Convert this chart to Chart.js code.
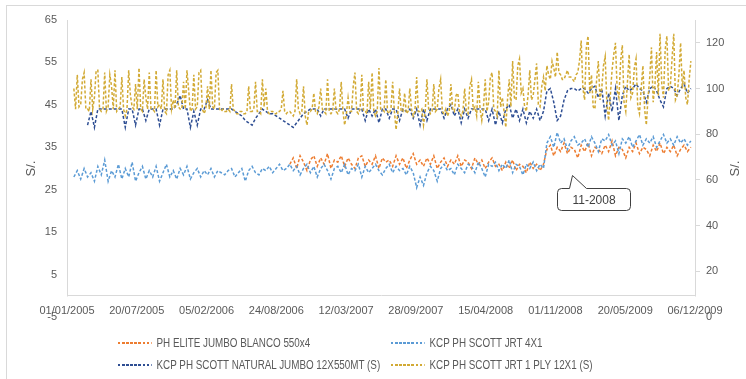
<!DOCTYPE html>
<html>
<head>
<meta charset="utf-8">
<script src="https://cdn.jsdelivr.net/npm/chart.js@4.4.0/dist/chart.umd.min.js"></script>
<style>
body { margin: 0; overflow: hidden; background: #fff; }
.wrap { position: relative; width: 746px; height: 379px; overflow: hidden; }
.frame { position: absolute; left: 6px; top: 5px; width: 780px; height: 420px; border: 1px solid #d9d9d9; }
canvas { position: absolute; left: 0; top: 0; }
.item { position: absolute; white-space: nowrap; font-family: 'Liberation Sans', sans-serif; font-size: 12px; line-height: 14px; color: #595959; transform: scaleX(0.82); transform-origin: 0 50%; }
.swatch { display: inline-block; width: 41px; height: 2px; vertical-align: middle; margin-right: 6px; margin-top: -2px; }
</style>
</head>
<body>
<div class="wrap">
  <div class="frame"></div>
  <canvas id="prices" width="746" height="379"></canvas>
  <div id="legend"></div>
</div>
<script>
// x axis is days counted from 01/01/2005, one label every 200 days
var xTickLabels = ['01/01/2005', '20/07/2005', '05/02/2006', '24/08/2006', '12/03/2007', '28/09/2007', '15/04/2008', '01/11/2008', '20/05/2009', '06/12/2009']
var xTickStep = 200
var xMaxDay = 1832

var seriesNames = ['PH ELITE JUMBO BLANCO 550x4', 'KCP PH SCOTT JRT 4X1', 'KCP PH SCOTT NATURAL JUMBO 12X550MT (S)', 'KCP PH SCOTT JRT 1 PLY 12X1 (S)']
var seriesColors = ['#ED7D31', '#5B9BD5', '#2E4E93', '#D2AA35']

// PH ELITE JUMBO BLANCO 550x4 (left axis), one value every 10 days
var eliteStart = 650
var eliteStep = 10
var eliteValues = [31, 32.5, 30, 33, 31.5, 29.5, 32, 33, 30.5, 32.5, 31, 33.5, 30, 32, 31.5, 33, 30.5, 32.5, 31, 30,
    32.5, 33, 30.5, 32, 31, 33, 30, 32.5, 31.5, 32, 30.5, 33, 31, 32.5, 30, 32, 33.5, 31, 32, 30.5,
    32.5, 31, 33, 30, 31.5, 32.5, 30.5, 32, 31, 33, 30.5, 32, 31.5, 30, 32.5, 31, 32, 30, 31.5, 32.5,
    30.5, 31, 29.5, 31.5, 30, 32, 29.5, 31, 30.5, 29, 31.5, 30, 31, 29.5, 31,
    34.5, 35.5, 33, 35, 34, 36, 33.5, 35, 34.5, 32.5, 35.5, 34, 36, 33, 35, 34.5, 33.5, 35.5, 34, 36.5,
    33, 35, 34.5, 32.5, 35, 34, 36, 33.5, 35, 34.5, 33, 35.5, 34, 36, 33.5, 35, 34, 35.5, 33, 34.5,
    35.5, 34, 35]

// KCP PH SCOTT JRT 4X1 (left axis), one value every 10 days
var jrtStart = 20
var jrtStep = 10
var jrtValues = [28, 29.5, 27.5, 30, 28, 29, 27, 30.5, 28.5, 32, 27, 29.5, 28, 31, 27.5, 30, 28, 31.5, 27, 29,
    30.5, 27.5, 29.5, 28, 30.5, 27, 29, 31, 28, 29.5, 27.5, 30, 28.5, 30.5, 27.5, 29, 30, 28, 29.5, 28.5,
    30, 28, 29.5, 29, 28.5, 29.5, 30, 28, 29, 30, 27, 29.5, 30.5, 29, 28.5, 30, 29.5, 30.5, 29, 30,
    31, 29.5, 30, 31, 29.5, 30.5, 28.5, 30, 31, 29, 30.5, 28, 30, 31, 29.5, 27.5, 30, 30.5, 29, 31,
    28.5, 30, 29.5, 31, 28, 30.5, 29, 30, 31, 29.5, 28.5, 30, 31, 29, 30.5, 29.5, 30, 28.5, 30.5, 29,
    25.5, 28, 26, 29, 30.5, 29.5, 27, 30, 31, 29.5, 30, 28.5, 31, 30, 29, 31, 30.5, 29, 31.5, 30,
    28, 31, 30.5, 31.5, 29.5, 31, 30, 32, 29, 31, 30.5, 28.5, 31, 30, 31.5, 29.5, 31, 30,
    36, 37.5, 35, 38.5, 36, 37, 34.5, 36.5, 37.5, 35.5, 36, 37, 35, 37.5, 36, 34, 37, 36.5, 38, 35.5,
    36.5, 33.5, 37, 36, 37.5, 35, 36.5, 38, 35.5, 37, 36, 37.5, 35, 36.5, 38, 36, 37, 35.5, 37.5, 36,
    37, 35.5, 36.5]

// KCP PH SCOTT NATURAL JUMBO 12X550MT (right axis), one value every 10 days
var naturalStart = 60
var naturalStep = 10
var naturalValues = [84, 90, 83, 91,
    91, 91, 91, 91, 91, 91, 91, 83, 91, 91, 84, 91, 91, 86, 91, 91, 91, 84, 91, 91,
    91, 91, 93, 97, 91, 91, 83, 90, 84, 91, 91, 95, 91, 91, 91, 91, 91,
    91, 91, 90, 89, 88, 86, 85, 84, 87, 89, 91, 90, 89, 89, 88, 87, 86, 85, 84, 83,
    85, 87, 89, 90, 91,
    91, 91, 88, 91, 91, 91, 91, 91, 91, 91, 87, 91, 91, 91, 91, 86, 91, 88, 91, 85,
    91, 91, 87, 91, 91, 86, 91, 90, 91, 87, 91, 84, 91, 86, 91, 91, 91, 91, 87, 91,
    93, 88, 91, 85, 91, 87, 91, 91, 91, 91, 91, 86, 91, 84, 90, 85, 91, 93, 87, 91,
    86, 91, 85, 90, 87, 91, 86, 90,
    99, 100, 94, 86, 88, 95, 99, 100, 100, 99, 100, 100, 98, 100, 101, 96, 100, 88, 98, 90,
    100, 86, 97, 101, 99, 100, 102, 100, 99, 94, 100, 101, 99, 95, 92, 100, 101, 100, 97, 100,
    102, 98, 100]

// KCP PH SCOTT JRT 1 PLY 12X1 (right axis), one value every 5 days
var plyStart = 20
var plyStep = 5
var plyValues = [100, 91, 106, 92, 93, 104, 107, 91, 91, 90, 104, 91, 96, 108, 108, 91, 90, 91, 107, 90,
    92, 106, 101, 91, 108, 90, 91, 92, 105, 91, 88, 91, 108, 97, 92, 91, 102, 91, 109, 91,
    90, 104, 96, 91, 107, 91, 91, 90, 108, 92, 93, 91, 104, 90, 89, 106, 108, 91, 95, 91,
    108, 92, 91, 91, 103, 91, 108, 99, 90, 91, 106, 91, 92, 107, 108, 91, 89, 91, 101, 91,
    108, 92, 91, 107, 108, 91, 90, 91,
    90, 90, 91, 90, 102, 91, 90, 89, 89, 90, 90, 89, 89, 90, 101, 90, 90, 91, 103, 90,
    90, 89, 104, 92, 100, 90, 89, 90, 90, 89, 89, 90, 90, 91, 99, 90, 89, 90, 90, 89,
    88, 90, 104, 91, 89, 90, 101, 88, 84, 90, 90, 91, 98, 90, 89, 92, 100, 91, 90, 89,
    104, 90, 89, 90,
    100, 90, 89, 91, 103, 90, 84, 89, 96, 90, 90, 101, 107, 90, 89, 91, 106, 90, 90, 89,
    103, 91, 107, 90, 88, 90, 109, 91, 91, 90, 104, 90, 89, 91, 103, 90, 82, 89, 100, 90,
    90, 98, 89, 90, 100, 91, 88, 90, 105, 90, 90, 91, 84, 90, 104, 91, 89, 90, 102, 90,
    91, 100, 104, 90, 89, 91, 88, 90, 102, 91, 90, 97, 98, 90, 88, 90,
    100, 90, 89, 101, 104, 91, 92, 88, 103, 91, 86, 92, 104, 90, 94, 105, 107, 91, 90, 88,
    108, 92, 96, 90, 83, 95, 104, 92, 112, 96, 95, 110, 113, 98, 100, 92, 90, 97, 108, 95,
    97, 104, 111, 93, 92, 101, 105, 99,
    110, 106, 104, 112, 109, 105, 116, 107, 106, 104, 104, 106, 108, 105, 105, 104, 103, 106, 107, 112,
    121, 100, 95, 118, 123, 98, 106, 92, 91, 104, 112, 95, 100, 110, 114, 93, 86, 97, 108, 115,
    120, 99, 96, 112, 119, 94, 90, 103, 115, 96, 98, 109, 113, 92, 89, 100, 110, 91, 84, 96,
    105, 118, 94, 101, 116, 97, 124, 102, 96, 117, 123, 99, 101, 113, 124, 95, 97, 106, 120, 100,
    108, 96, 93, 104, 112]

var axisTitle = 'S/.'
var calloutText = '11-2008'
var calloutDay = 1473
var calloutValue = 28.5

function toPoints(start, step, values){
    var points = []
    for (var i = 0; i < values.length; i++) {
        points.push({x: start + i * step, y: values[i]})
    }
    return points
}

function lineSet(idx, points, axis, order){
    return {
        label: seriesNames[idx],
        data: points,
        yAxisID: axis,
        borderColor: seriesColors[idx],
        borderWidth: 1.5,
        borderDash: [3, 2],
        pointRadius: 0,
        tension: 0,
        fill: false,
        order: order
    }
}

var tickFont = {family: 'Liberation Sans', size: 11}
var textColor = '#595959'
var lineColor = '#d9d9d9'

// y axis lines stop at the category axis, right axis title, and the 11-2008 callout
var extras = {
    id: 'extras',
    afterDraw: function(chart){
        var ctx = chart.ctx
        var area = chart.chartArea
        var base = Math.round(chart.scales.y.getPixelForValue(0)) + 0.5
        var lx = Math.round(area.left) + 0.5
        var rx = Math.round(area.right) + 0.5
        ctx.save()
        ctx.strokeStyle = lineColor
        ctx.lineWidth = 1
        ctx.beginPath()
        ctx.moveTo(lx, area.top)
        ctx.lineTo(lx, base)
        ctx.moveTo(rx, area.top)
        ctx.lineTo(rx, base)
        ctx.stroke()

        // secondary title reads bottom to top like the primary one
        ctx.save()
        ctx.translate(chart.scales.y2.right - 11, (area.top + area.bottom) / 2)
        ctx.rotate(-Math.PI / 2)
        ctx.fillStyle = textColor
        ctx.font = '13px "Liberation Sans"'
        ctx.textAlign = 'center'
        ctx.textBaseline = 'middle'
        ctx.fillText(axisTitle, 0, 0)
        ctx.restore()

        var tx = Math.round(chart.scales.x.getPixelForValue(calloutDay)) + 0.5
        var ty = Math.round(chart.scales.y.getPixelForValue(calloutValue)) + 0.5
        var l = tx - 15, r = tx + 58, t = ty + 13, b = ty + 35, rad = 4
        ctx.beginPath()
        ctx.moveTo(l + rad, t)
        ctx.lineTo(tx - 3, t)
        ctx.lineTo(tx, ty)
        ctx.lineTo(tx + 14, t)
        ctx.lineTo(r - rad, t)
        ctx.arcTo(r, t, r, t + rad, rad)
        ctx.lineTo(r, b - rad)
        ctx.arcTo(r, b, r - rad, b, rad)
        ctx.lineTo(l + rad, b)
        ctx.arcTo(l, b, l, b - rad, rad)
        ctx.lineTo(l, t + rad)
        ctx.arcTo(l, t, l + rad, t, rad)
        ctx.closePath()
        ctx.fillStyle = '#fff'
        ctx.fill()
        ctx.strokeStyle = '#404040'
        ctx.stroke()
        ctx.fillStyle = '#404040'
        ctx.font = '12px "Liberation Sans"'
        ctx.textAlign = 'center'
        ctx.textBaseline = 'middle'
        ctx.fillText(calloutText, (l + r) / 2, (t + b) / 2 + 1)
        ctx.restore()
    }
}

var ctx = document.getElementById('prices')
var chart = new Chart(ctx, {
    type: 'line',
    data: {
        datasets: [
            lineSet(0, toPoints(eliteStart, eliteStep, eliteValues), 'y', 4),
            lineSet(1, toPoints(jrtStart, jrtStep, jrtValues), 'y', 3),
            lineSet(2, toPoints(naturalStart, naturalStep, naturalValues), 'y2', 2),
            lineSet(3, toPoints(plyStart, plyStep, plyValues), 'y2', 1)
        ]
    },
    options: {
        responsive: false,
        animation: false,
        devicePixelRatio: 1,
        layout: {padding: {top: 20, bottom: 62, left: 0, right: 0}},
        plugins: {legend: {display: false}, tooltip: {enabled: false}},
        scales: {
            x: {
                type: 'linear',
                position: {y: 0},
                min: 0,
                max: xMaxDay,
                grid: {display: false, drawTicks: false},
                border: {display: true, color: lineColor},
                ticks: {
                    stepSize: xTickStep,
                    includeBounds: false,
                    autoSkip: false,
                    maxRotation: 0,
                    padding: 9,
                    color: textColor,
                    font: tickFont,
                    callback: function(v){ return xTickLabels[Math.round(v / xTickStep)] }
                }
            },
            y: {
                position: 'left',
                min: -5,
                max: 65,
                grid: {display: false, drawTicks: false},
                border: {display: false},
                ticks: {stepSize: 10, padding: 10, color: textColor, font: tickFont},
                title: {display: true, text: axisTitle, color: textColor, font: {family: 'Liberation Sans', size: 13}, padding: {top: 24, bottom: 0}},
                afterFit: function(s){ s.width = 67 }
            },
            y2: {
                position: 'right',
                min: 0,
                max: 130,
                grid: {
                    drawOnChartArea: false,
                    drawTicks: true,
                    tickLength: 5,
                    color: function(c){ return c.tick && c.tick.value === 0 ? 'rgba(0,0,0,0)' : lineColor }
                },
                border: {display: false},
                ticks: {stepSize: 20, includeBounds: false, padding: 6, color: textColor, font: tickFont},
                afterFit: function(s){ s.width = 51 }
            }
        }
    },
    plugins: [extras]
});

// legend in two aligned columns under the axis labels
var legendSpots = [[118, 336], [391, 336], [118, 358], [391, 358]]
var legend = document.getElementById('legend')
for (var i = 0; i < seriesNames.length; i++) {
    var item = document.createElement('div')
    item.className = 'item'
    item.style.left = legendSpots[i][0] + 'px'
    item.style.top = legendSpots[i][1] + 'px'
    var sw = document.createElement('span')
    sw.className = 'swatch'
    sw.style.background = 'repeating-linear-gradient(to right, ' + seriesColors[i] + ' 0 3px, transparent 3px 5px)'
    item.appendChild(sw)
    item.appendChild(document.createTextNode(seriesNames[i]))
    legend.appendChild(item)
}
</script>
</body>
</html>
